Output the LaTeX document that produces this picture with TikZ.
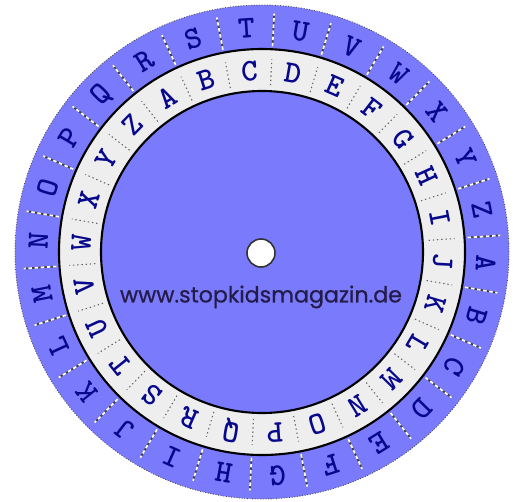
\documentclass[tikz,border=0pt]{standalone}
\usepackage{fontspec}
\usepackage{tikz}
\usetikzlibrary{calc}
\newfontfamily\wheelfont{lmmonolt10-bold.otf}
\newfontfamily\urlfont{Poppins}[FakeBold=0.7]
\definecolor{wheelblue}{RGB}{122,122,252}
\definecolor{ringgray}{RGB}{238,238,238}
\definecolor{letterblue}{RGB}{8,8,140}
\definecolor{urldark}{RGB}{36,28,72}
\tikzset{
  letter/.style={font=\wheelfont\fontsize{18}{18}\selectfont,
    text=letterblue, inner sep=0pt},
  outerdash/.style={white, line width=1pt, dash pattern=on 2pt off 1.5pt},
  outerback/.style={black!75, line width=1pt},
  innerdash/.style={black!60, line width=0.6pt, dash pattern=on 0.8pt off 1.6pt},
  ringedge/.style={black, line width=1.2pt},
  urltext/.style={font=\urlfont\fontsize{12.6}{14}\selectfont, text=urldark}
}

\begin{document}
\begin{tikzpicture}[x=0.02cm, y=0.02cm]
  \useasboundingbox (-262,-249) rectangle (258,252);
  % Outer disc
  \fill[wheelblue] (0,0) circle (247);
  \draw[black!70, line width=0.5pt, densely dotted] (0,0) circle (247);
  % Letter ring
  \fill[ringgray] (0,0) circle (203);
  \fill[wheelblue] (0,0) circle (161);
  \draw[ringedge] (0,0) circle (203);
  \draw[ringedge] (0,0) circle (161);
  % Centre hole
  \draw[black!80, fill=white, line width=0.9pt] (-1,-1) circle (14);
  % Separators
  \foreach \i in {0,...,25} {
    \pgfmathsetmacro{\sa}{94 - (\i-19)*360/26 + 180/26}
    \coordinate (so\i) at (\sa:206);
    \coordinate (to\i) at (\sa:239);
    \coordinate (si\i) at (\sa:167);
    \coordinate (ti\i) at (\sa:193);
    \draw[outerback] (so\i) -- (to\i);
    \draw[outerdash] (so\i) -- (to\i);
    \draw[innerdash] (si\i) -- (ti\i);
  }
  % Outer and inner alphabets
  \foreach \l [count=\i from 0] in {A,B,C,D,E,F,G,H,I,J,K,L,M,N,O,P,Q,R,S,T,U,V,W,X,Y,Z} {
    \pgfmathsetmacro{\oa}{94 - (\i-19)*360/26}
    \pgfmathsetmacro{\ia}{94 - (\i-2)*360/26}
    \node[letter, rotate=\oa-90] (out\l) at (\oa:224) {\l};
    \node[letter, rotate=\ia-90] (in\l) at (\ia:181) {\l};
  }
  % Web address
  \node[urltext] (url) at (-1,-45) {www.stopkidsmagazin.de};
\end{tikzpicture}
\end{document}
